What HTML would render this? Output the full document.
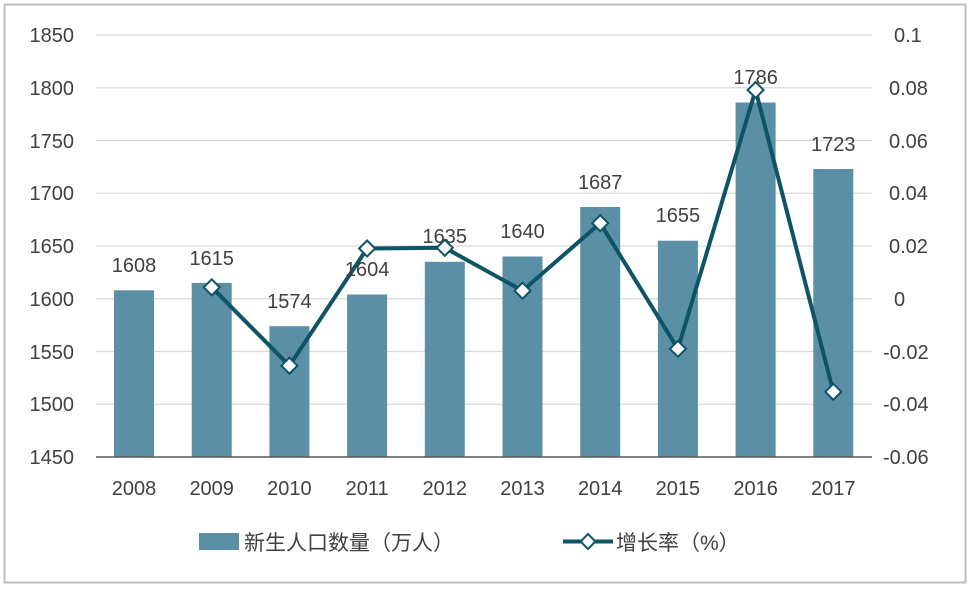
<!DOCTYPE html>
<html><head><meta charset="utf-8"><style>body{margin:0;background:#fff}svg{display:block}</style></head><body>
<svg width="970" height="590" viewBox="0 0 970 590" font-family="'Liberation Sans','Noto Sans CJK SC',sans-serif">
<rect x="4.5" y="4.5" width="961" height="578" fill="#fff" stroke="#bdbdbd" stroke-width="2"/>
<g stroke="#d9d9d9" stroke-width="1.2">
<line x1="96" x2="872" y1="35" y2="35"/><line x1="96" x2="872" y1="87.75" y2="87.75"/><line x1="96" x2="872" y1="140.5" y2="140.5"/><line x1="96" x2="872" y1="193.25" y2="193.25"/><line x1="96" x2="872" y1="246" y2="246"/><line x1="96" x2="872" y1="298.75" y2="298.75"/><line x1="96" x2="872" y1="351.5" y2="351.5"/><line x1="96" x2="872" y1="404.25" y2="404.25"/>
</g>
<g fill="#5b8fa6">
<rect x="114" y="290.3" width="40" height="166.7"/><rect x="191.7" y="282.9" width="40" height="174.1"/><rect x="269.4" y="326.2" width="40" height="130.8"/><rect x="347.1" y="294.5" width="40" height="162.5"/><rect x="424.8" y="261.8" width="40" height="195.2"/><rect x="502.5" y="256.5" width="40" height="200.5"/><rect x="580.2" y="207" width="40" height="250"/><rect x="657.9" y="240.7" width="40" height="216.3"/><rect x="735.6" y="102.5" width="40" height="354.5"/><rect x="813.3" y="169" width="40" height="288"/>
</g>
<line x1="96" x2="872" y1="457" y2="457" stroke="#595959" stroke-width="1.5"/>
<g font-size="20" fill="#404040" text-anchor="end">
<text x="74" y="42">1850</text><text x="74" y="95">1800</text><text x="74" y="148">1750</text><text x="74" y="200">1700</text><text x="74" y="253">1650</text><text x="74" y="306">1600</text><text x="74" y="359">1550</text><text x="74" y="411">1500</text><text x="74" y="464">1450</text>
</g>
<g font-size="20" fill="#404040" text-anchor="start">
<text x="894" y="42">0.1</text><text x="889" y="95">0.08</text><text x="889" y="148">0.06</text><text x="889" y="200">0.04</text><text x="889" y="253">0.02</text><text x="894" y="306">0</text><text x="883" y="359">-0.02</text><text x="883" y="411">-0.04</text><text x="883" y="464">-0.06</text>
</g>
<g font-size="20" fill="#404040" text-anchor="middle">
<text x="134" y="495">2008</text><text x="211.7" y="495">2009</text><text x="289.4" y="495">2010</text><text x="367.1" y="495">2011</text><text x="444.8" y="495">2012</text><text x="522.5" y="495">2013</text><text x="600.2" y="495">2014</text><text x="677.9" y="495">2015</text><text x="755.6" y="495">2016</text><text x="833.3" y="495">2017</text>
</g>
<polyline fill="none" stroke="#0f5366" stroke-width="4" points="211.7,287.3 289.4,365.7 367.1,248.5 444.8,247.8 522.5,290.7 600.2,223.2 677.9,348.8 755.6,90 833.3,391.8"/>
<g fill="#fff" stroke="#0f5366" stroke-width="2">
<path d="M211.7,279.3l8,8l-8,8l-8,-8z"/><path d="M289.4,357.7l8,8l-8,8l-8,-8z"/><path d="M367.1,240.5l8,8l-8,8l-8,-8z"/><path d="M444.8,239.8l8,8l-8,8l-8,-8z"/><path d="M522.5,282.7l8,8l-8,8l-8,-8z"/><path d="M600.2,215.2l8,8l-8,8l-8,-8z"/><path d="M677.9,340.8l8,8l-8,8l-8,-8z"/><path d="M755.6,82l8,8l-8,8l-8,-8z"/><path d="M833.3,383.8l8,8l-8,8l-8,-8z"/>
</g>
<g font-size="20" fill="#404040" text-anchor="middle">
<text x="134" y="272">1608</text><text x="211.7" y="265">1615</text><text x="289.4" y="308">1574</text><text x="367.1" y="276">1604</text><text x="444.8" y="243">1635</text><text x="522.5" y="238">1640</text><text x="600.2" y="189">1687</text><text x="677.9" y="222">1655</text><text x="755.6" y="84">1786</text><text x="833.3" y="151">1723</text>
</g>
<rect x="199" y="533" width="40" height="17" fill="#5b8fa6"/>
<text x="244" y="550" font-size="21" fill="#404040">新生人口数量（万人）</text>
<line x1="563" x2="613" y1="541.5" y2="541.5" stroke="#0f5366" stroke-width="4"/>
<path d="M588,534l7.5,7.5l-7.5,7.5l-7.5,-7.5z" fill="#fff" stroke="#0f5366" stroke-width="2"/>
<text x="616" y="550" font-size="21" fill="#404040">增长率（%）</text>
</svg>
</body></html>
